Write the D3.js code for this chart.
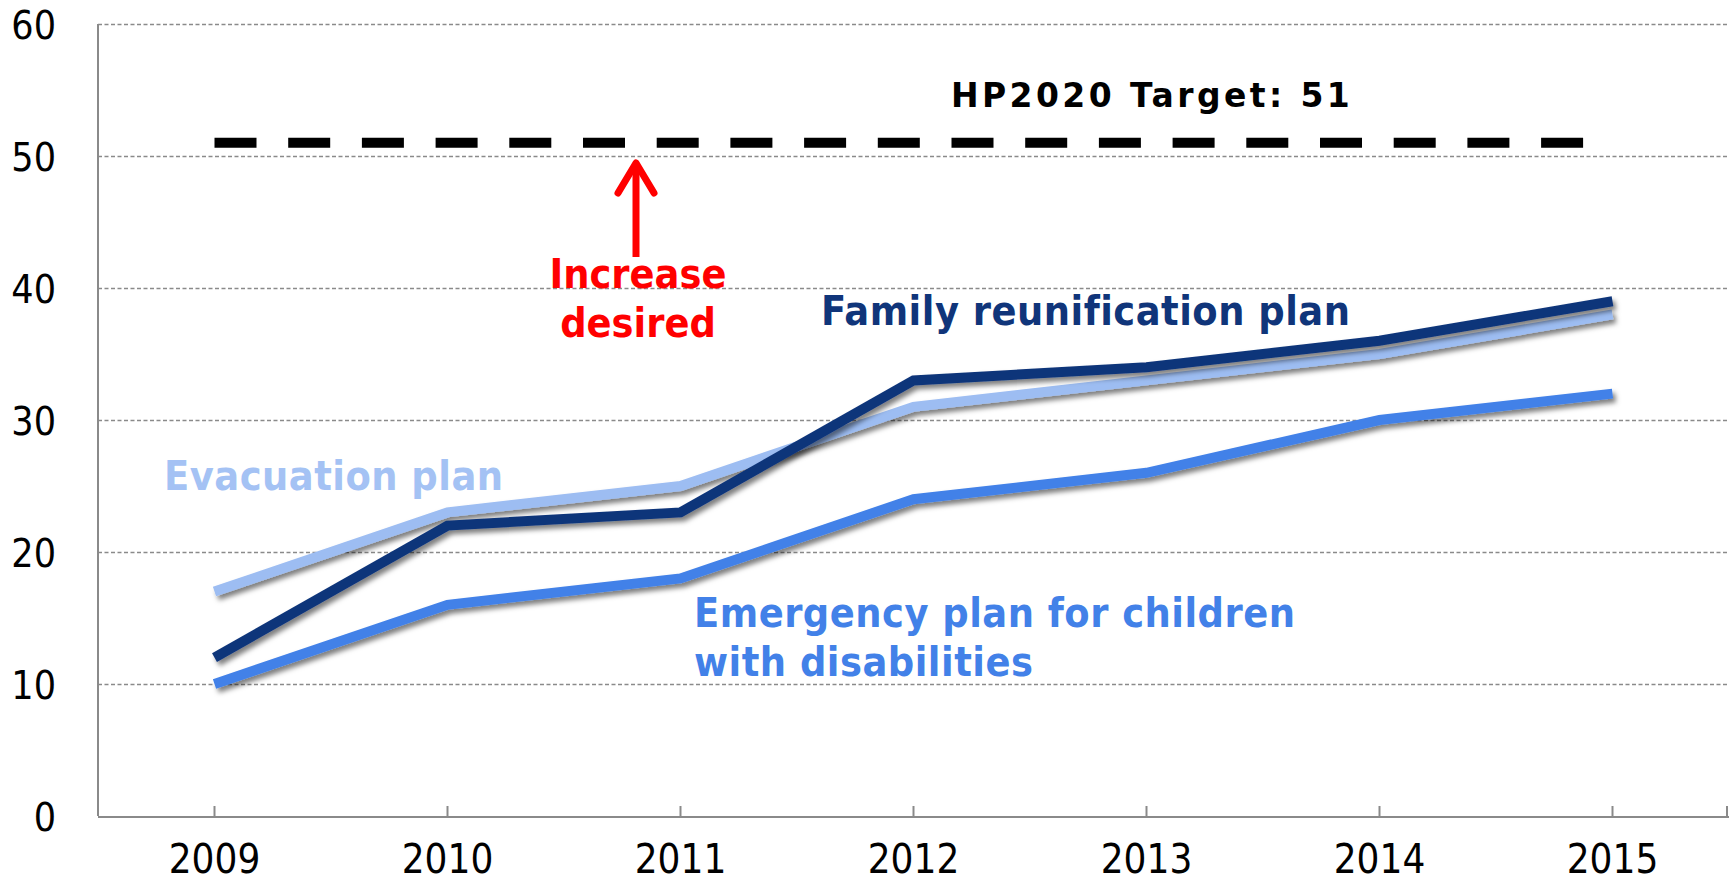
<!DOCTYPE html>
<html>
<head>
<meta charset="utf-8">
<script src="https://cdn.jsdelivr.net/npm/d3@7"></script>
<style>
  html, body { margin: 0; padding: 0; background: #fff; }
  svg { display: block; }
</style>
</head>
<body>
<svg id="chart" width="1729" height="881"></svg>
<script>
// ---- data ----
const years = ["2009", "2010", "2011", "2012", "2013", "2014", "2015"];
const evacuationPlan = [17, 23, 25, 31, 33, 35, 38];
const familyReunificationPlan = [12, 22, 23, 33, 34, 36, 39];
const emergencyPlanDisabilities = [10, 16, 18, 24, 26, 30, 32];
const yTicks = [0, 10, 20, 30, 40, 50, 60];
const target = 51;

const seriesNames = ["Emergency plan for children with disabilities", "Evacuation plan", "Family reunification plan"];
const seriesValues = [emergencyPlanDisabilities, evacuationPlan, familyReunificationPlan];
const seriesColors = ["#4281E8", "#9DBDF2", "#10357A"];

// ---- layout ----
const svg = d3.select("#chart");
const mLeft = 98, mRight = 1729, mTop = 24, mBottom = 816;
const condensed = "'DejaVu Sans Condensed', 'DejaVu Sans', sans-serif";

const x = d3.scaleBand().domain(years).range([mLeft, mRight]).paddingInner(0).paddingOuter(0);
const cx = d => x(d) + x.bandwidth() / 2;
const y = d3.scaleLinear().domain([0, 60]).range([mBottom, mTop]);

// drop shadow filter
const defs = svg.append("defs");
const f = defs.append("filter").attr("id", "shadow").attr("x", "-10%").attr("y", "-10%").attr("width", "120%").attr("height", "130%");
f.append("feDropShadow").attr("dx", 3).attr("dy", 4).attr("stdDeviation", 2.5)
  .attr("flood-color", "#000").attr("flood-opacity", 0.5);

// gridlines
const yAxis = d3.axisLeft(y).tickValues(yTicks).tickSize(-(mRight - mLeft)).tickFormat(d => d);
const gy = svg.append("g").attr("transform", `translate(${mLeft},0)`).call(yAxis);
gy.select(".domain").remove();
gy.selectAll(".tick line")
  .attr("stroke", "#8a8a8a").attr("stroke-width", 1.3).attr("stroke-dasharray", "4,2.5")
  .filter(d => d === 0).remove();
gy.selectAll(".tick text")
  .attr("x", 56 - mLeft).attr("dy", "0.36em").attr("text-anchor", "end")
  .style("font-family", condensed).style("font-size", "39px").attr("fill", "#000");

// y axis line
svg.append("line").attr("x1", mLeft).attr("x2", mLeft).attr("y1", y(60)).attr("y2", y(0))
  .attr("stroke", "#8a8a8a").attr("stroke-width", 2);

// x axis
const xAxis = d3.axisBottom(x).tickSize(0).tickPadding(0);
const gx = svg.append("g").attr("transform", `translate(0,${mBottom})`).call(xAxis);
gx.select(".domain").remove();
gx.selectAll(".tick text").attr("y", 57).attr("dy", 0)
  .style("font-family", condensed).style("font-size", "40px").attr("fill", "#000");
svg.append("line").attr("x1", mLeft).attr("x2", mRight).attr("y1", mBottom + 1).attr("y2", mBottom + 1)
  .attr("stroke", "#8a8a8a").attr("stroke-width", 2);
const tickXs = years.map(cx).concat([mRight - 2]);
svg.append("g").selectAll("line").data(tickXs).join("line")
  .attr("x1", d => d).attr("x2", d => d).attr("y1", mBottom + 1).attr("y2", mBottom - 10)
  .attr("stroke", "#8a8a8a").attr("stroke-width", 2);

// target line
svg.append("line")
  .attr("x1", cx(years[0])).attr("x2", cx(years[years.length - 1]))
  .attr("y1", y(target)).attr("y2", y(target))
  .attr("stroke", "#000").attr("stroke-width", 10).attr("stroke-dasharray", "42,31.7");
svg.append("text").attr("x", 951).attr("y", 107)
  .style("font-family", "'DejaVu Sans', sans-serif").style("font-weight", "bold")
  .style("font-size", "33px").style("letter-spacing", "3.4px").attr("fill", "#000")
  .text("HP2020 Target: " + target);

// series lines
const line = d3.line().x((d, i) => cx(years[i])).y(d => y(d));
svg.append("g").selectAll("path").data(seriesValues).join("path")
  .attr("d", d => line(d))
  .attr("fill", "none")
  .attr("stroke", (d, i) => seriesColors[i])
  .attr("stroke-width", 10)
  .attr("stroke-linejoin", "miter")
  .attr("filter", "url(#shadow)");

// series labels
const lbl = (txt, xx, yy, col) => svg.append("text").attr("x", xx).attr("y", yy)
  .style("font-family", condensed).style("font-weight", "bold").style("font-size", "41px")
  .style("letter-spacing", "0.5px").attr("fill", col).text(txt);
lbl("Evacuation plan", 164, 490, "#A4C2F4");
lbl("Family reunification plan", 821, 325, "#10357A");
lbl("Emergency plan for children", 694, 627, "#4281E8");
lbl("with disabilities", 694, 676, "#4281E8");

// increase desired arrow
const red = "#FF0000";
svg.append("line").attr("x1", 636).attr("x2", 636).attr("y1", 257).attr("y2", 165)
  .attr("stroke", red).attr("stroke-width", 7);
svg.append("path").attr("d", "M618,193 L636,163 L654,193")
  .attr("fill", "none").attr("stroke", red).attr("stroke-width", 7)
  .attr("stroke-linecap", "round").attr("stroke-linejoin", "round");
svg.append("text").attr("x", 638).attr("y", 288).attr("text-anchor", "middle")
  .style("font-family", condensed).style("font-weight", "bold").style("font-size", "41px")
  .attr("fill", red).text("Increase");
svg.append("text").attr("x", 638).attr("y", 337).attr("text-anchor", "middle")
  .style("font-family", condensed).style("font-weight", "bold").style("font-size", "41px")
  .attr("fill", red).text("desired");
</script>
</body>
</html>
